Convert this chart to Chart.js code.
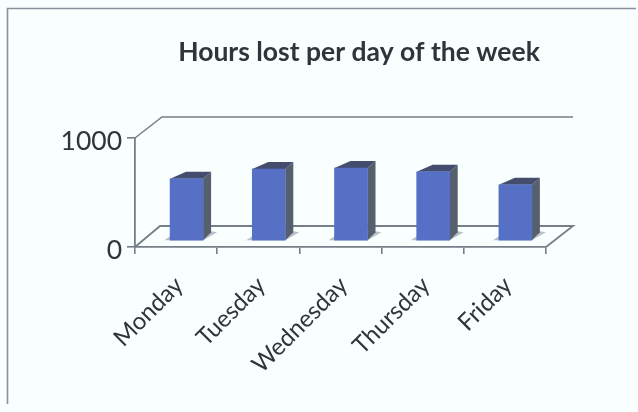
<!DOCTYPE html>
<html><head><meta charset="utf-8">
<script src="https://cdn.jsdelivr.net/npm/chart.js@4/dist/chart.umd.min.js"></script>
<style>html,body{margin:0;padding:0;background:#f9fefe;overflow:hidden}
#w{width:638px;height:412px;filter:blur(0.7px)}canvas{display:block}</style>
</head><body><div id="w"><canvas id="c" width="638" height="412"></canvas></div>
<script>
const days = ['Monday','Tuesday','Wednesday','Thursday','Friday'];
const hoursLost = [570, 660, 670, 635, 515];
const yTicks = [0, 1000];
const titleText = 'Hours lost per day of the week';

const ink = '#30353b', lineCol = '#767e88';
const shiftX = 10.5, shiftY = -6, depthX = 8, depthY = -7, wallX = 27, wallY = -21;

function poly(ctx, pts, fill){
  ctx.beginPath();
  pts.forEach((p,i)=> i?ctx.lineTo(p[0],p[1]):ctx.moveTo(p[0],p[1]));
  ctx.closePath(); ctx.fillStyle = fill; ctx.fill();
}
function seg(ctx, pts, w, col){
  ctx.beginPath();
  pts.forEach((p,i)=> i?ctx.lineTo(p[0],p[1]):ctx.moveTo(p[0],p[1]));
  ctx.lineWidth = w; ctx.strokeStyle = col; ctx.stroke();
}
const scene = {
  id:'scene',
  afterLayout(chart){ const t = chart.titleBlock; t.left += 86; t.right += 86; },
  beforeDraw(chart){
    const ctx = chart.ctx;
    ctx.save();
    ctx.fillStyle = '#f9fefe'; ctx.fillRect(0,0,chart.width,chart.height);
    seg(ctx,[[7.5,404],[7.5,8.5],[636,8.5]],1.6,'#8a919c');
    ctx.restore();
  },
  beforeDatasetsDraw(chart){
    const ctx = chart.ctx, a = chart.chartArea;
    ctx.save();
    seg(ctx,[[a.left,a.top],[a.left+wallX,a.top+wallY],[a.right+wallX,a.top+wallY]],1.5,lineCol);
    seg(ctx,[[a.left,a.bottom],[a.left+wallX-2,a.bottom+wallY],[a.right+wallX,a.bottom+wallY],[a.right,a.bottom]],1.8,lineCol);
    chart.getDatasetMeta(0).data.forEach(b=>{
      const x0 = b.x-b.width/2+shiftX, x1 = b.x+b.width/2+shiftX, top = b.y+shiftY, base = b.base+shiftY;
      poly(ctx,[[x0-6,base],[x1,base],[x1+14,base-8],[x1+8,base-9],[x1,base-3],[x0,base-4]],'#b9c1c6');
      poly(ctx,[[x1,top],[x1+depthX,top+depthY],[x1+depthX,base-8],[x1,base]],'#565f6d');
      poly(ctx,[[x0,top],[x0+16,top+depthY],[x1+depthX,top+depthY],[x1,top]],'#444d6e');
    });
    ctx.restore();
  },
  beforeDatasetDraw(chart){ chart.ctx.save(); chart.ctx.translate(shiftX,shiftY); },
  afterDatasetDraw(chart){ chart.ctx.restore(); }
};

new Chart(document.getElementById('c'),{
  type:'bar',
  data:{labels:days,datasets:[{data:hoursLost,backgroundColor:'#5670c6',barThickness:33,clip:false}]},
  plugins:[scene],
  options:{
    responsive:false,animation:false,
    layout:{padding:{left:0,right:92,top:0,bottom:0}},
    plugins:{
      legend:{display:false},tooltip:{enabled:false},
      title:{display:true,text:titleText,color:ink,
        font:{family:'Lato',weight:'bold',size:26.5,lineHeight:1.2},
        padding:{top:37,bottom:69.2}}
    },
    scales:{
      x:{
        afterFit(s){s.height=165;},
        grid:{drawOnChartArea:false,drawTicks:true,tickLength:7,color:lineCol,lineWidth:1.6},
        border:{display:true,color:lineCol,width:1.8},
        ticks:{color:ink,font:{family:'Lato',size:24},minRotation:45,maxRotation:45,labelOffset:3,padding:17,autoSkip:false}
      },
      y:{
        min:0,max:1000,
        afterFit(s){s.width=135;},
        afterBuildTicks(s){s.ticks=yTicks.map(v=>({value:v}));},
        grid:{drawOnChartArea:false,drawTicks:true,tickLength:8,color:lineCol,lineWidth:1.6},
        border:{display:true,color:lineCol,width:1.8},
        ticks:{color:ink,font:{family:'Lato',size:26.5},padding:5,labelOffset:3,callback:v=>String(v)}
      }
    }
  }
});
</script></body></html>
